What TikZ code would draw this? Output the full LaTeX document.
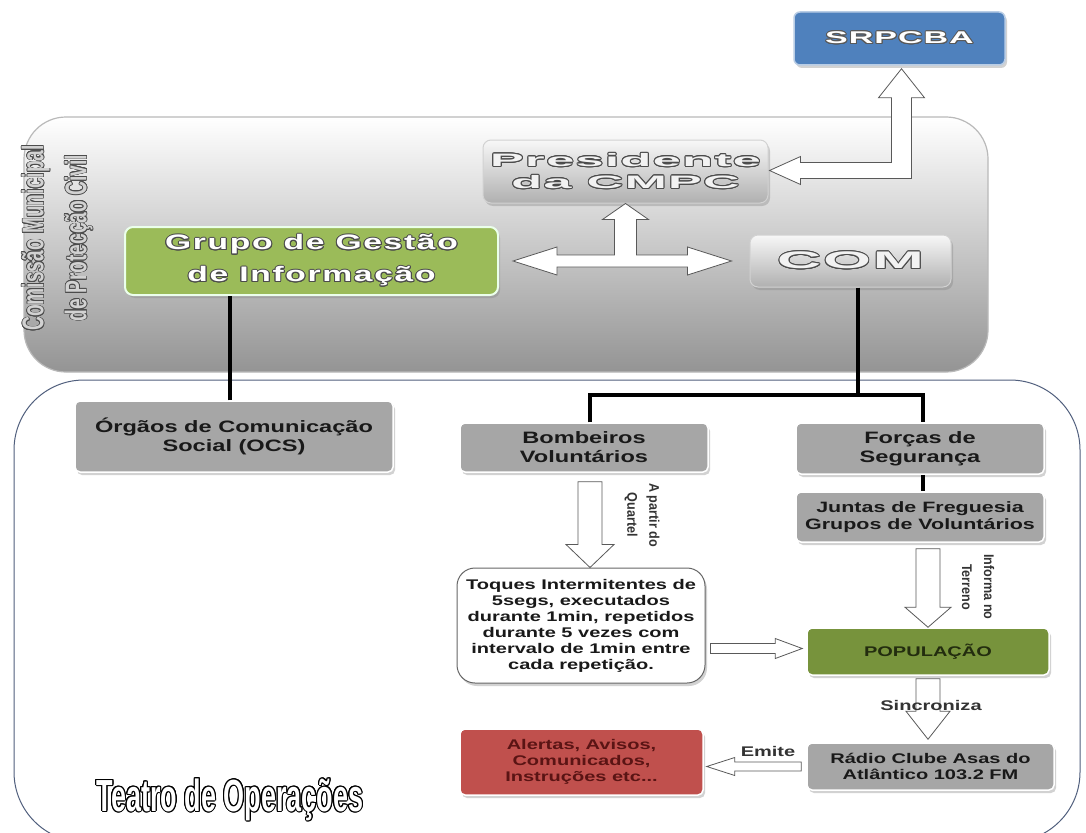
\documentclass[tikz,border=0pt]{standalone}
\usepackage{fontspec}
\setmainfont{Liberation Sans}
\usepackage{contour}
\usetikzlibrary{calc,shadows}
\newfontfamily\fBox[FakeStretch=1.43]{Liberation Sans}
\newfontfamily\fSRP[FakeStretch=2.0,LetterSpace=6]{Liberation Sans}
\newfontfamily\fWide[FakeStretch=2.8,LetterSpace=8]{Liberation Sans}
\newfontfamily\fWideB[FakeStretch=2.55,LetterSpace=8]{Liberation Sans}
\newfontfamily\fGrupo[FakeStretch=1.6,LetterSpace=8]{Liberation Sans}
\newfontfamily\fVert[FakeStretch=0.64]{Liberation Sans}
\newfontfamily\fRot[FakeStretch=0.9]{Liberation Sans}
\newfontfamily\fTeatro[FakeStretch=0.6]{Liberation Sans}
\definecolor{boxgray}{RGB}{166,166,166}
\definecolor{srpblue}{RGB}{79,129,189}
\definecolor{grpgreen}{RGB}{155,187,89}
\definecolor{popgreen}{RGB}{119,147,60}
\definecolor{alred}{RGB}{192,80,77}
\definecolor{altext}{RGB}{90,20,20}
\definecolor{poptext}{RGB}{35,45,15}
\definecolor{regborder}{RGB}{80,95,125}
\newcommand\blkdown[5]{\draw[blk] let \p1=(#1), \p2=(#2) in (\x1-#3,\y1) -- (\x1+#3,\y1) -- (\x1+#3,\y2+#5) -- (\x1+#4,\y2+#5) -- (\x1,\y2) -- (\x1-#4,\y2+#5) -- (\x1-#3,\y2+#5) -- cycle;}
\newcommand\blkright[5]{\draw[blk] let \p1=(#1), \p2=(#2) in (\x1,\y1+#3) -- (\x2-#5,\y1+#3) -- (\x2-#5,\y1+#4) -- (\x2,\y1) -- (\x2-#5,\y1-#4) -- (\x2-#5,\y1-#3) -- (\x1,\y1-#3) -- cycle;}
\newcommand\blkleft[5]{\draw[blk] let \p1=(#1), \p2=(#2) in (\x1,\y1+#3) -- (\x2+#5,\y1+#3) -- (\x2+#5,\y1+#4) -- (\x2,\y1) -- (\x2+#5,\y1-#4) -- (\x2+#5,\y1-#3) -- (\x1,\y1-#3) -- cycle;}
\tikzset{
  shad/.style={drop shadow={shadow xshift=2pt,shadow yshift=-3pt,opacity=0.35}},
  box/.style={rounded corners=5pt, draw=white, line width=1.5pt, shad, align=center, inner sep=0pt},
  graybox/.style={box, fill=boxgray, text=black!90, font=\fBox\bfseries\fontsize{16.5}{19}\selectfont},
  smallgray/.style={box, fill=boxgray, text=black!90, font=\fBox\bfseries\fontsize{14}{16}\selectfont},
  gradbox/.style={rounded corners=8pt, draw=gray!35, line width=1pt, top color=gray!6, bottom color=gray!62, shad, align=center, inner sep=0pt},
  blk/.style={fill=white, draw=black!65, line width=0.8pt, line join=miter},
  conn/.style={line width=4pt, black, line join=miter},
  lbl/.style={text=black!80, font=\fBox\bfseries\fontsize{14}{16}\selectfont, inner sep=0pt},
  rotlbl/.style={rotate=-90, align=center, text=black!80, font=\fRot\bfseries\fontsize{14}{22}\selectfont, inner sep=0pt}
}
\begin{document}
\begin{tikzpicture}[x=1pt,y=-1pt]
\useasboundingbox (0,0) rectangle (1086,832);
\clip (0,0) rectangle (1086,832);
\fill[white] (0,0) rectangle (1086,832);
% regions
\draw[draw=gray!55, line width=1.2pt, rounded corners=42pt, top color=white, bottom color=black!42] (24,117) rectangle (988,372);
\draw[draw=regborder, line width=1pt, rounded corners=70pt, fill=white] (14,380) rectangle (1080,842);
% region titles
\contourlength{0.7pt}
\node[rotate=90, align=center, inner sep=0pt, font=\fVert\bfseries\fontsize{30}{43}\selectfont] (cmpc) at (57.5,238)
  {\textcolor{gray!35}{\contour{black!70}{Comissão Municipal}}\\\textcolor{gray!35}{\contour{black!70}{de Protecção Civil}}};
\contourlength{1pt}
\node[inner sep=0pt, font=\fTeatro\bfseries\fontsize{45}{45}\selectfont] (teatro) at (230,800)
  {\textcolor{white}{\contour{black}{Teatro de Operações}}};
% top nodes
\node[box, fill=srpblue, draw=srpblue!40!white, rounded corners=6pt, minimum width=211pt, minimum height=53pt,
      font=\fSRP\bfseries\fontsize{17}{20}\selectfont] (srp) at (899.5,38.5)
  {\textcolor{white}{\contour{black!65}{SRPCBA}}};
\node[gradbox, minimum width=285pt, minimum height=63pt, font=\fWide\bfseries\fontsize{18}{22}\selectfont] (pres) at (625.5,171.5)
  {\textcolor{gray!10}{\contour{black!70}{Presidente}}\\\textcolor{gray!10}{\contour{black!70}{da CMPC}}};
\node[gradbox, minimum width=201pt, minimum height=52pt, font=\fWideB\bfseries\fontsize{24}{26}\selectfont] (com) at (850.5,261)
  {\textcolor{gray!10}{\contour{black!70}{COM}}};
\node[box, fill=grpgreen, draw=green!8!white, line width=2pt, rounded corners=8pt, minimum width=373pt, minimum height=68pt,
      font=\fGrupo\bfseries\fontsize{21}{32}\selectfont] (grupo) at (311.5,261)
  {\textcolor{white}{\contour{black!70}{Grupo de Gestão}}\\\textcolor{white}{\contour{black!70}{de Informação}}};
% lower nodes
\node[graybox, minimum width=318pt, minimum height=71pt] (ocs) at (234,436.5) {Órgãos de Comunicação\\Social (OCS)};
\node[graybox, minimum width=248pt, minimum height=49pt] (bomb) at (584,447.5) {Bombeiros\\Voluntários};
\node[graybox, minimum width=248pt, minimum height=51pt] (forcas) at (920,448.5) {Forças de\\Segurança};
\node[graybox, minimum width=248pt, minimum height=50pt, font=\fBox\bfseries\fontsize{15}{17}\selectfont] (juntas) at (920,517)
  {Juntas de Freguesia\\Grupos de Voluntários};
\node[box, fill=white, draw=black!60, line width=1pt, rounded corners=18pt, minimum width=248pt, minimum height=115pt,
      text=black!90, font=\fBox\bfseries\fontsize{14}{16}\selectfont] (toques) at (581,625.5)
  {Toques Intermitentes de\\5segs, executados\\durante 1min, repetidos\\durante 5 vezes com\\intervalo de 1min entre\\cada repetição.};
\node[box, fill=popgreen, draw=white, minimum width=242pt, minimum height=47pt, text=poptext,
      font=\fBox\bfseries\fontsize{14}{16}\selectfont] (pop) at (928,651.5) {POPULAÇÃO};
\node[smallgray, minimum width=247pt, minimum height=47pt] (radio) at (930.5,766.5) {Rádio Clube Asas do\\Atlântico 103.2 FM};
\node[box, fill=alred, minimum width=243pt, minimum height=66pt, text=altext,
      font=\fBox\bfseries\fontsize{14}{16}\selectfont] (alertas) at (581.5,762) {Alertas, Avisos,\\Comunicados,\\Instruções etc...};
% black connectors
\draw[conn] ([xshift=-4pt]ocs.north) -- ([xshift=-4pt]ocs.north |- grupo.south);
\coordinate (jn) at ([xshift=7pt,yshift=-107pt]com.south);
\draw[conn] ([xshift=7pt]com.south) -- (jn);
\draw[conn] ([xshift=6pt]bomb.north) |- (jn) -| ([xshift=3pt]forcas.north);
\draw[conn] ([xshift=3pt]forcas.south) -- ([xshift=3pt]juntas.north);
% T-shaped block arrow
\draw[blk] let \p1=($(grupo.east)+(14,0)$), \p2=($(com.west)+(-18,0)$), \p3=(pres.south) in
  (\x1,\y1) -- (\x1+44pt,\y1+14pt) -- (\x1+44pt,\y1+6pt) -- (\x3-11pt,\y1+6pt) -- (\x3-11pt,\y3-16pt)
  -- (\x3-23pt,\y3-16pt) -- (\x3,\y3) -- (\x3+23pt,\y3-16pt) -- (\x3+11pt,\y3-16pt) -- (\x3+11pt,\y1+6pt)
  -- (\x2-44pt,\y1+6pt) -- (\x2-44pt,\y1+14pt) -- (\x2,\y1) -- (\x2-44pt,\y1-14pt) -- (\x2-44pt,\y1-6pt)
  -- (\x1+44pt,\y1-6pt) -- (\x1+44pt,\y1-14pt) -- cycle;
% L-shaped block arrow
\draw[blk] let \p1=($(pres.east)+(1,-1)$), \p2=($(srp.south)+(2,3)$) in
  (\x1,\y1) -- (\x1+31pt,\y1+14pt) -- (\x1+31pt,\y1+8pt) -- (\x2-10pt,\y1+8pt) -- (\x2-10pt,\y2-29pt)
  -- (\x2-23pt,\y2-29pt) -- (\x2,\y2) -- (\x2+23pt,\y2-29pt) -- (\x2+10pt,\y2-29pt) -- (\x2+10pt,\y1-8pt)
  -- (\x1+31pt,\y1-8pt) -- (\x1+31pt,\y1-14pt) -- cycle;
% lower block arrows
\coordinate (a1s) at ($(bomb.south)+(6,9)$);
\blkdown{a1s}{a1s |- toques.north}{12pt}{24pt}{23pt}
\coordinate (a2s) at ($(juntas.south)+(8,6)$);
\blkdown{a2s}{a2s |- pop.north}{12pt}{23pt}{20pt}
\coordinate (a3s) at ($(pop.south)+(0,3)$);
\coordinate (a3e) at ($(a3s |- radio.north)+(0,-3)$);
\blkdown{a3s}{a3e}{12pt}{22pt}{28pt}
\coordinate (a4e) at ($(pop.west)+(-4,-3)$);
\coordinate (a4s) at ($(toques.east |- a4e)+(5,0)$);
\blkright{a4s}{a4e}{5pt}{10pt}{27pt}
\coordinate (a5s) at ($(radio.west)+(-5,0)$);
\coordinate (a5e) at ($(alertas.east |- a5s)+(3,0)$);
\blkleft{a5s}{a5e}{4.5pt}{9pt}{28pt}
% labels
\node[rotlbl] (lq) at (642,515) {A partir do\\Quartel};
\node[rotlbl] (lt) at (978,587) {Informa no\\Terreno};
\node[lbl] (ls) at (931,705) {Sincroniza};
\node[lbl] (le) at (768,751) {Emite};
\end{tikzpicture}
\end{document}
